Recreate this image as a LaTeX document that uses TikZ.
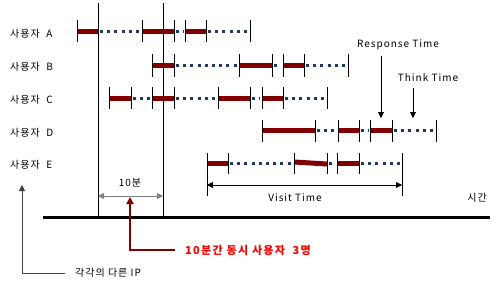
\documentclass[tikz,border=0pt]{standalone}
\usepackage{fontspec}
\setmainfont{Noto Sans CJK KR}
\usetikzlibrary{arrows.meta}
\definecolor{barred}{HTML}{800000}
\definecolor{dotblue}{HTML}{1F3A68}
\definecolor{labred}{HTML}{FF0000}
\begin{document}
\begin{tikzpicture}[x=1pt,y=-1pt,
  lbl/.style={font=\fontsize{10}{12}\selectfont\addfontfeatures{LetterSpace=10}, inner sep=0pt},
  busy/.style={draw=barred, line width=5pt},
  idle/.style={draw=dotblue, line width=3pt, dash pattern=on 3pt off 4.2pt},
  tick/.style={draw=black, line width=0.8pt},
  ptr/.style={-{Triangle[length=6pt,width=6pt]}, line width=0.8pt}]
\useasboundingbox (0,0) rectangle (500,287);
% labels
\node[lbl, anchor=west] (la) at (10,34) {사용자\ \ A};
\node[lbl, anchor=west] (lb) at (10,67) {사용자\ \ B};
\node[lbl, anchor=west] (lc) at (10,100) {사용자\ \ C};
\node[lbl, anchor=west] (ld) at (10,133) {사용자\ \ D};
\node[lbl, anchor=west] (le) at (10,165) {사용자\ \ E};
% long vertical lines
\coordinate (v1t) at (98,3); \coordinate (v1b) at (98,217);
\coordinate (v2t) at (163,3); \coordinate (v2b) at (163,217);
\draw[line width=0.8pt] (v1t) -- (v1b);
\draw[line width=0.8pt] (v2t) -- (v2b);
% Row A (y=31)
\draw[busy] (77,31) -- (98,31);
\draw[idle] (100,31) -- (140,31);
\draw[busy] (142,31) -- (174,31);
\draw[idle] (176,31) -- (184,31);
\draw[busy] (185,31) -- (206,31);
\draw[idle] (208,31) -- (248,31);
\foreach \x in {77,142,174,185,206,250} \draw[tick] (\x,20) -- (\x,42);
% Row B (y=65)
\draw[busy] (152,65) -- (174,65);
\draw[idle] (176,65) -- (237,65);
\draw[busy] (239,65) -- (272,65);
\draw[idle] (274,65) -- (281,65);
\draw[busy] (283,65) -- (304,65);
\draw[idle] (306,65) -- (346,65);
\foreach \x in {152,174,239,272,283,304,348} \draw[tick] (\x,54) -- (\x,77);
% Row C (y=98)
\draw[busy] (109,98) -- (131,98);
\draw[idle] (133,98) -- (151,98);
\draw[busy] (152,98) -- (174,98);
\draw[idle] (176,98) -- (216,98);
\draw[busy] (218,98) -- (250,98);
\draw[idle] (252,98) -- (260,98);
\draw[busy] (262,98) -- (283,98);
\draw[idle] (285,98) -- (325,98);
\foreach \x in {109,131,152,174,218,250,262,283,327} \draw[tick] (\x,87) -- (\x,109);
% Row D (y=130)
\draw[busy] (262,130) -- (315,130);
\draw[idle] (317,130) -- (336,130);
\draw[busy] (338,130) -- (359,130);
\draw[idle] (361,130) -- (369,130);
\draw[busy] (370,130) -- (392,130);
\draw[idle] (394,130) -- (433,130);
\foreach \x in {262,315,338,359,370,392,436} \draw[tick] (\x,120) -- (\x,142);
% Row E (y=163)
\draw[busy] (207,163) -- (228,163);
\draw[idle] (230,163) -- (292,163);
\draw[busy] (294,162) -- (327,164);
\draw[idle] (329,163) -- (336,163);
\draw[busy] (337,163) -- (359,163);
\draw[idle] (361,163) -- (400,163);
\foreach \x in {228,294,327,337,359} \draw[tick] (\x,153) -- (\x,174);
\coordinate (et) at (207,153); \coordinate (eb) at (207,196);
\coordinate (ft) at (402,153); \coordinate (fb) at (402,196);
\draw[tick] (et) -- (eb);
\draw[tick] (ft) -- (fb);
% Visit time
\coordinate (va) at (207,185); \coordinate (vb) at (402,185);
\draw[{Triangle[length=6pt,width=6pt]}-{Triangle[length=6pt,width=6pt]}, line width=0.8pt] (va) -- (vb);
\node[lbl] (vt) at (295,198) {Visit Time};
% 10 min
\coordinate (ta) at (98,196); \coordinate (tb) at (163,196);
\draw[{Triangle[length=6pt,width=6pt]}-{Triangle[length=6pt,width=6pt]}, draw=gray, line width=1pt] (ta) -- (tb);
\node[lbl] (tm) at (130,183) {10분};
% baseline
\coordinate (b1) at (43,217); \coordinate (b2) at (490,217);
\draw[line width=3pt] (b1) -- (b2);
\node[lbl] (time) at (477,198) {시간};
% Response / Think
\node[lbl] (rt) at (398,45) {Response Time};
\coordinate (rtip) at (381,118);
\draw[ptr] (381,56) -- (rtip);
\node[lbl] (tt) at (428,78) {Think Time};
\coordinate (ttip) at (413,118);
\draw[ptr] (413,88) -- (ttip);
% red callout
\node[lbl, anchor=west, text=labred, font=\fontsize{11}{13}\selectfont\bfseries\addfontfeatures{LetterSpace=12}] (red) at (185,250) {10분간 동시 사용자\ \ 3명};
\coordinate (rc) at (130,250); \coordinate (rtop) at (130,197);
\draw[barred, line width=2pt, -{Triangle[length=7pt,width=7pt]}] (red.west) ++(-10,0) -- (rc) -- (rtop);
% gray callout
\node[lbl, anchor=west] (ip) at (75,273) {각각의 다른 IP};
\coordinate (gc) at (22,273); \coordinate (gtop) at (22,185);
\draw[ptr, draw=black!75] (65,273) -- (gc) -- (gtop);
\end{tikzpicture}
\end{document}
